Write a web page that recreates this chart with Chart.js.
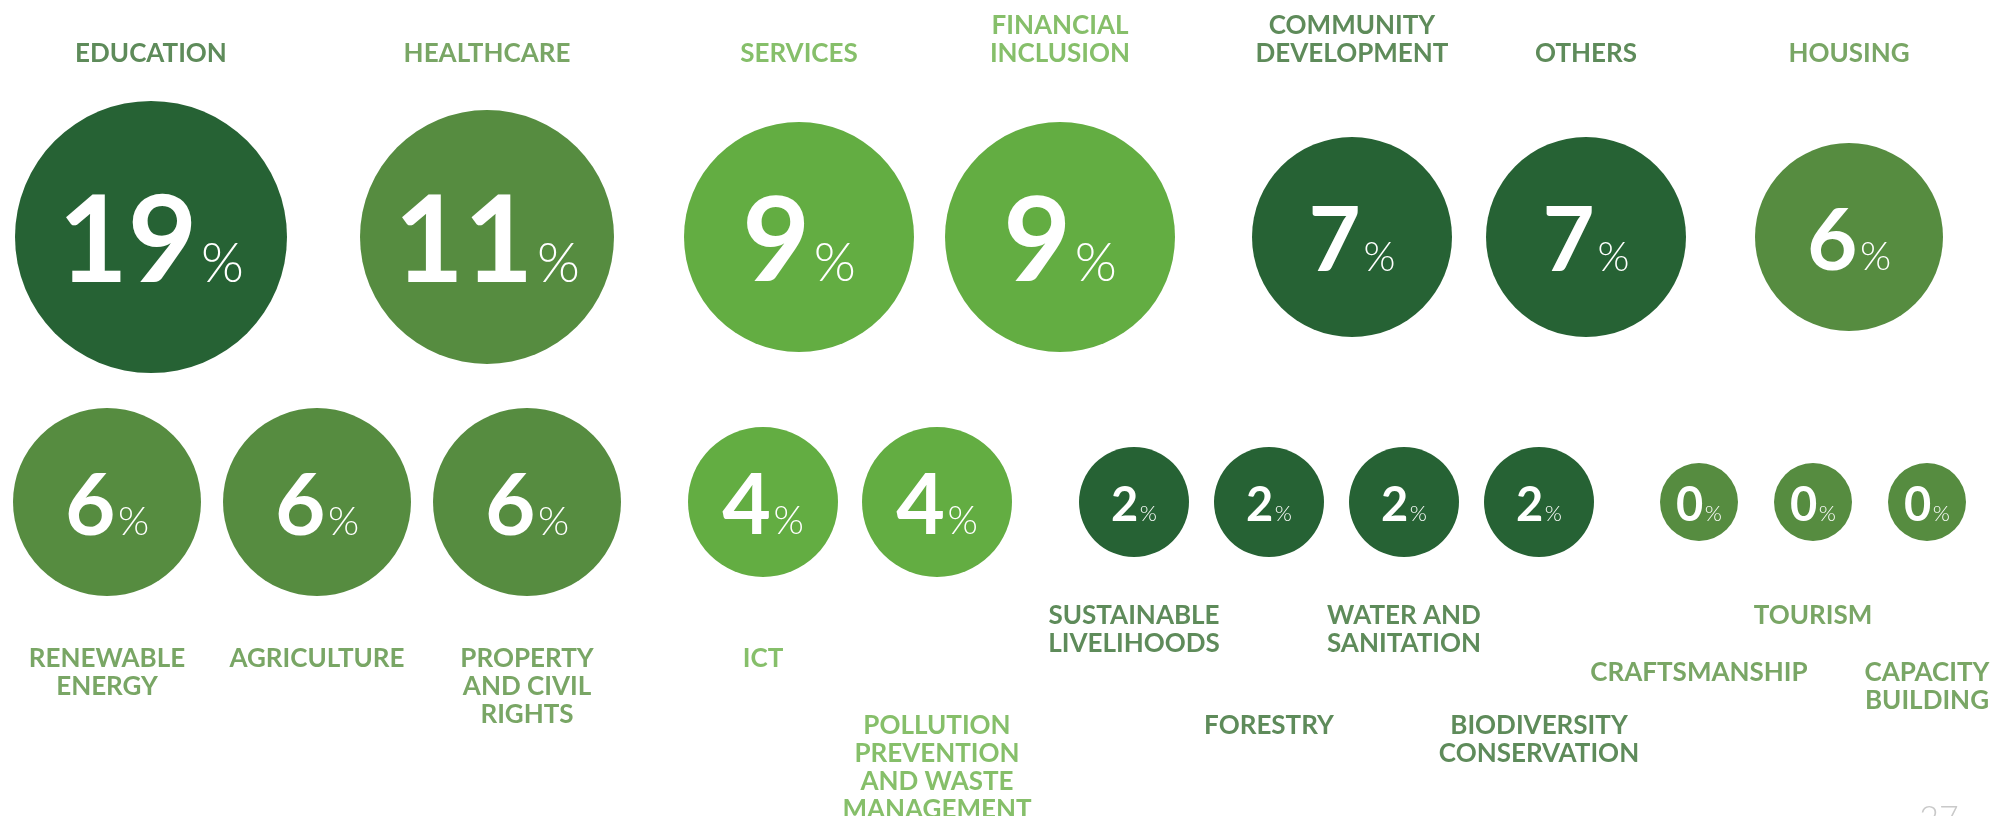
<!DOCTYPE html>
<html>
<head>
<meta charset="utf-8">
<script src="https://cdn.jsdelivr.net/npm/chart.js@4.4.1/dist/chart.umd.min.js"></script>
<style>
  html, body { margin: 0; padding: 0; background: #fff; }
  #wrap { position: relative; width: 2011px; height: 816px; }
</style>
</head>
<body>
<div id="wrap"><canvas id="sectorChart"></canvas></div>
<script>
// Share of portfolio per sector (%). Top row, then bottom row.
const topSectors = [
  ['EDUCATION'],
  ['HEALTHCARE'],
  ['SERVICES'],
  ['FINANCIAL', 'INCLUSION'],
  ['COMMUNITY', 'DEVELOPMENT'],
  ['OTHERS'],
  ['HOUSING'],
];
const topShares = [19, 11, 9, 9, 7, 7, 6];

const bottomSectors = [
  ['RENEWABLE', 'ENERGY'],
  ['AGRICULTURE'],
  ['PROPERTY', 'AND CIVIL', 'RIGHTS'],
  ['ICT'],
  ['POLLUTION', 'PREVENTION', 'AND WASTE', 'MANAGEMENT'],
  ['SUSTAINABLE', 'LIVELIHOODS'],
  ['FORESTRY'],
  ['WATER AND', 'SANITATION'],
  ['BIODIVERSITY', 'CONSERVATION'],
  ['CRAFTSMANSHIP'],
  ['TOURISM'],
  ['CAPACITY', 'BUILDING'],
];
const bottomShares = [6, 6, 6, 4, 4, 2, 2, 2, 2, 0, 0, 0];

const pageNumber = '27';

// Look of each share size: bubble radius, numeral size, colour tone.
const shareStyle = {
  19: { r: 136, size: 120, tone: 'dark' },
  11: { r: 127, size: 120, tone: 'mid' },
  9: { r: 115, size: 117, tone: 'light' },
  7: { r: 100, size: 90, tone: 'dark' },
  6: { r: 94, size: 87, tone: 'mid' },
  4: { r: 75, size: 84, tone: 'light' },
  2: { r: 55, size: 47, tone: 'dark' },
  0: { r: 39, size: 47, tone: 'mid' },
};
const tones = {
  dark: { fill: '#266234', text: '#5e8b5a' },
  mid: { fill: '#568c40', text: '#79a665' },
  light: { fill: '#63ad42', text: '#86bf6a' },
};
// gap between neighbouring bubbles of the same share
const sameGap = { 9: 31, 7: 34, 6: 22, 4: 24, 2: 25, 0: 36 };
// gap in front of the first bubble of a new share group
const groupGap = { 11: 73, 9: 70, 7: 77, 6: 69, 4: 67, 2: 67, 0: 66 };
// where the first line of a bottom-row label starts (cap top, offset from row centre)
const bottomLabelDrop = [146, 146, 146, 146, 213, 103, 213, 103, 213, 160, 103, 160];

const labelFont = '700 26px Lato, "Open Sans", sans-serif';
const lineStep = 28;

const packRow = (shares, left, y) => {
  let edge = left;
  return shares.map((v, i) => {
    const r = shareStyle[v].r;
    if (i > 0) edge += v === shares[i - 1] ? sameGap[v] : groupGap[v];
    const point = { x: edge + r, y, r };
    edge += 2 * r;
    return point;
  });
};

const rows = [
  { sectors: topSectors, shares: topShares, points: packRow(topShares, 15, 237), top: true },
  { sectors: bottomSectors, shares: bottomShares, points: packRow(bottomShares, 13, 502), top: false },
];

const sectorLabels = {
  id: 'sectorLabels',
  afterDatasetsDraw: (chart) => {
    const ctx = chart.ctx;
    ctx.save();
    ctx.textAlign = 'left';
    ctx.textBaseline = 'alphabetic';
    rows.forEach((row, di) => {
      chart.getDatasetMeta(di).data.forEach((el, i) => {
        const v = row.shares[i];
        const st = shareStyle[v];

        // big number with a thin % sign
        const numFont = `700 ${st.size}px Lato, sans-serif`;
        const pctFont = `300 ${Math.round(st.size * 0.46)}px Lato, sans-serif`;
        ctx.font = numFont;
        const nw = ctx.measureText(String(v)).width;
        ctx.font = pctFont;
        const pw = ctx.measureText('%').width;
        const gap = st.size * 0.03;
        const x0 = el.x - (nw + gap + pw) / 2;
        const base = el.y + st.size * 0.36 + 2;
        ctx.fillStyle = '#ffffff';
        ctx.font = numFont;
        ctx.fillText(String(v), x0, base);
        ctx.font = pctFont;
        ctx.fillText('%', x0 + nw + gap, base);

        // sector name
        const lines = row.sectors[i];
        ctx.save();
        ctx.font = labelFont;
        ctx.textAlign = 'center';
        ctx.fillStyle = tones[st.tone].text;
        lines.forEach((line, k) => {
          let y;
          if (row.top) y = 62 - (lines.length - 1 - k) * lineStep;
          else y = el.y + bottomLabelDrop[i] + 19 + k * lineStep;
          ctx.fillText(line, el.x, y);
        });
        ctx.restore();
      });
    });
    ctx.font = '300 34px Lato, sans-serif';
    ctx.fillStyle = '#c9c9c9';
    ctx.textAlign = 'center';
    ctx.fillText(pageNumber, 1939, 830);
    ctx.restore();
  },
};

new Chart(document.getElementById('sectorChart'), {
  type: 'bubble',
  data: {
    datasets: rows.map((row) => ({
      data: row.points,
      backgroundColor: row.shares.map((v) => tones[shareStyle[v].tone].fill),
      borderWidth: 0,
      hoverRadius: 0,
      clip: false,
    })),
  },
  options: {
    responsive: true,
    maintainAspectRatio: false,
    animation: false,
    events: [],
    layout: { padding: 0, autoPadding: false },
    scales: {
      x: { type: 'linear', display: false, min: 0, max: 2011 },
      y: { type: 'linear', display: false, min: 0, max: 816, reverse: true },
    },
    plugins: {
      legend: { display: false },
      tooltip: { enabled: false },
    },
  },
  plugins: [sectorLabels],
});
</script>
</body>
</html>
